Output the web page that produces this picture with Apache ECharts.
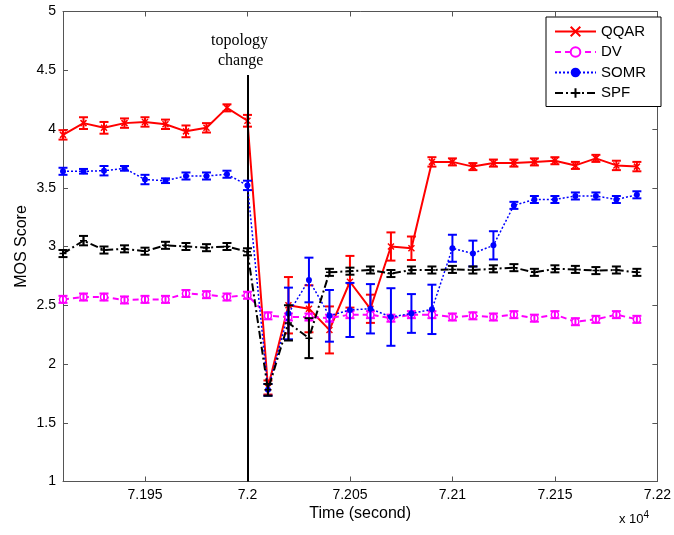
<!DOCTYPE html>
<html>
<head>
<meta charset="utf-8">
<script src="https://cdn.jsdelivr.net/npm/echarts@6/dist/echarts.min.js"></script>
<style>
html,body{margin:0;padding:0;background:#fff;}
#c{width:674px;height:535px;}
</style>
</head>
<body>
<div id="c"></div>
<script>
var times = [71910,71920,71930,71940,71950,71960,71970,71980,71990,72000,
             72010,72020,72030,72040,72050,72060,72070,72080,72090,72100,
             72110,72120,72130,72140,72150,72160,72170,72180,72190];
var qqar = [3.95,4.05,4.01,4.05,4.06,4.04,3.98,4.01,4.18,4.07,
            1.80,2.50,2.47,2.29,2.70,2.47,3.00,2.985,3.72,3.72,
            3.68,3.71,3.71,3.72,3.73,3.69,3.75,3.69,3.68];
var qqarErr = [0.04,0.05,0.05,0.04,0.04,0.04,0.05,0.04,0.03,0.05,
               0.06,0.24,0.20,0.20,0.22,0.12,0.12,0.10,0.04,0.03,
               0.03,0.03,0.03,0.03,0.03,0.03,0.03,0.04,0.04];
var dv = [2.55,2.57,2.57,2.545,2.55,2.55,2.60,2.59,2.57,2.585,
          2.41,2.40,2.40,2.39,2.42,2.42,2.39,2.42,2.42,2.40,
          2.41,2.40,2.42,2.39,2.42,2.36,2.38,2.42,2.38];
var dvErr = [0.03,0.03,0.03,0.03,0.03,0.03,0.03,0.03,0.03,0.03,
             0.03,0.03,0.03,0.03,0.03,0.03,0.03,0.03,0.03,0.03,
             0.03,0.03,0.03,0.03,0.03,0.03,0.03,0.03,0.03];
var somr = [3.64,3.64,3.645,3.665,3.57,3.56,3.60,3.60,3.615,3.52,
            1.78,2.43,2.715,2.41,2.46,2.47,2.40,2.43,2.465,2.985,
            2.94,3.01,3.35,3.40,3.40,3.43,3.43,3.40,3.44];
var somrErr = [0.03,0.02,0.04,0.02,0.04,0.02,0.03,0.03,0.03,0.04,
               0.05,0.22,0.19,0.22,0.23,0.21,0.245,0.165,0.21,0.115,
               0.11,0.12,0.03,0.03,0.03,0.03,0.03,0.03,0.03];
var spf = [2.94,3.05,2.97,2.98,2.96,3.01,3.00,2.99,3.00,2.955,
           1.78,2.35,2.22,2.78,2.79,2.80,2.77,2.80,2.80,2.805,
           2.80,2.81,2.82,2.78,2.81,2.805,2.795,2.80,2.78];
var spfErr = [0.03,0.04,0.03,0.03,0.03,0.03,0.03,0.03,0.03,0.03,
              0.05,0.15,0.17,0.03,0.03,0.03,0.03,0.03,0.03,0.03,
              0.03,0.03,0.03,0.03,0.03,0.03,0.03,0.03,0.03];
var xTicks = [71950,72000,72050,72100,72150,72200];
var seriesNames = ['QQAR','DV','SOMR','SPF'];
var eventTime = 72000;
var eventTop = 4.46;

function pts(v){ return times.map(function(t,i){ return [t, v[i]]; }); }
function errPts(v,e){ return times.map(function(t,i){ return [t, v[i], e[i]]; }); }
function errRender(color){
  return function(params, api){
    var x = api.value(0), y = api.value(1), e = api.value(2);
    var top = api.coord([x, y + e]), bot = api.coord([x, y - e]);
    var w = 4.5;
    var st = {stroke: color, lineWidth: 2};
    return {type:'group', children:[
      {type:'line', shape:{x1:top[0],y1:top[1],x2:bot[0],y2:bot[1]}, style:st},
      {type:'line', shape:{x1:top[0]-w,y1:top[1],x2:top[0]+w,y2:top[1]}, style:st},
      {type:'line', shape:{x1:bot[0]-w,y1:bot[1],x2:bot[0]+w,y2:bot[1]}, style:st}
    ]};
  };
}
var font = 'Arial, "Liberation Sans", Helvetica, sans-serif';
var axisCol = '#555';

var cfg = [
  {name:'QQAR', v:qqar, e:qqarErr, color:'#ff0000', type:'solid', width:2,
   symbol:'path://M0 0L10 10M10 0L0 10', size:6, fill:'none', bw:1.5},
  {name:'DV', v:dv, e:dvErr, color:'#ff00ff', type:[6,4], width:2,
   symbol:'circle', size:7, fill:'#fff', bw:1.5},
  {name:'SOMR', v:somr, e:somrErr, color:'#0000ff', type:[2,2], width:1.5,
   symbol:'circle', size:6, fill:'#0000ff', bw:0},
  {name:'SPF', v:spf, e:spfErr, color:'#000000', type:[8,3,2,3], width:2,
   symbol:'path://M5 0L5 10M0 5L10 5', size:7, fill:'none', bw:1.5}
];

var series = [];
cfg.forEach(function(c, k){
  series.push({
    name: c.name, type:'line', data: pts(c.v), z: 2 + k*2,
    symbol: c.symbol, symbolSize: c.size, showSymbol: true,
    lineStyle: {color: c.color, width: c.width, type: c.type},
    itemStyle: {color: c.fill, borderColor: c.color, borderWidth: c.bw},
    animation: false
  });
  series.push({
    name: c.name + ' err', type:'custom', data: errPts(c.v, c.e), z: 3 + k*2,
    renderItem: errRender(c.color), encode: {x:0, y:1}, animation:false, silent:true
  });
});
series.push({
  name:'event', type:'line', data:[], z: 20, animation:false,
  markLine: {
    silent:true, symbol:['none','none'], label:{show:false},
    lineStyle:{color:'#000', width:2, type:'solid'},
    data:[[{coord:[eventTime,1]},{coord:[eventTime,eventTop]}]]
  }
});

var chart = echarts.init(document.getElementById('c'), null, {renderer:'canvas'});
chart.setOption({
  backgroundColor:'#fff',
  animation:false,
  grid:{left:63, right:13, top:11.5, bottom:53.5, containLabel:false},
  legend:{
    data: seriesNames, orient:'vertical', left:546, top:17,
    backgroundColor:'#fff', borderColor:'#000', borderWidth:1,
    padding:[7,15,6,8], itemWidth:41, itemHeight:12, itemGap:5.5,
    textStyle:{fontFamily:font, fontSize:15, color:'#000'},
    selectedMode:false
  },
  xAxis:[{
    type:'value', min:71910, max:72200, position:'bottom',
    name:'Time (second)', nameLocation:'middle', nameGap:24, nameMoveOverlap:false,
    nameTextStyle:{fontFamily:font, fontSize:16, color:'#000'},
    axisLine:{show:true, lineStyle:{color:axisCol, width:1}},
    axisTick:{show:true, inside:true, length:5, customValues:xTicks, lineStyle:{color:axisCol}},
    axisLabel:{show:true, customValues:xTicks, margin:7, fontFamily:font, fontSize:14, color:'#000',
      formatter:function(v){ return String(+(v/10000).toFixed(4)); }},
    splitLine:{show:false}
  },{
    type:'value', min:71910, max:72200, position:'top',
    axisLine:{show:true, onZero:false, lineStyle:{color:axisCol, width:1}},
    axisTick:{show:true, inside:true, length:5, customValues:xTicks, lineStyle:{color:axisCol}},
    axisLabel:{show:false}, splitLine:{show:false}
  }],
  yAxis:[{
    type:'value', min:1, max:5, interval:0.5,
    name:'MOS Score', nameLocation:'middle', nameGap:33, nameRotate:90, nameMoveOverlap:false,
    nameTextStyle:{fontFamily:font, fontSize:16, color:'#000'},
    axisLine:{show:true, lineStyle:{color:axisCol, width:1}},
    axisTick:{show:true, inside:true, length:5, lineStyle:{color:axisCol}},
    axisLabel:{show:true, margin:7, fontFamily:font, fontSize:14, color:'#000',
      formatter:function(v){ return String(v); }},
    splitLine:{show:false}
  },{
    type:'value', min:1, max:5, interval:0.5, position:'right',
    axisLine:{show:true, onZero:false, lineStyle:{color:axisCol, width:1}},
    axisTick:{show:true, inside:true, length:5, lineStyle:{color:axisCol}},
    axisLabel:{show:false}, splitLine:{show:false}
  }],
  graphic:[
    {type:'text', left:211, top:33, style:{text:'topology', fontFamily:'"Liberation Serif", "Times New Roman", serif', fontSize:16, fill:'#000'}},
    {type:'text', left:218, top:53, style:{text:'change', fontFamily:'"Liberation Serif", "Times New Roman", serif', fontSize:16, fill:'#000'}},
    {type:'text', left:619, top:510, style:{
      text:'x 10{s|4}', fontFamily:font, fontSize:13, fill:'#000',
      rich:{s:{fontFamily:font, fontSize:10, verticalAlign:'top', padding:[0,0,8,0]}}
    }}
  ],
  series: series
});
</script>
</body>
</html>
